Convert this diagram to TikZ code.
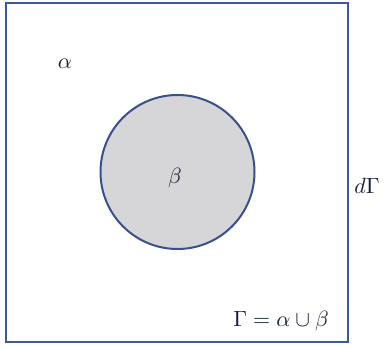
\documentclass[tikz,border=0pt]{standalone}
\usepackage{amsmath}
\definecolor{edgeblue}{HTML}{3D5A98}
\definecolor{circblue}{HTML}{3B4F8C}
\definecolor{fillgray}{HTML}{D6D6D8}
\definecolor{txt}{HTML}{141E36}
\tikzset{lbl/.style={text=txt,scale=2.2,inner sep=0pt}}
\begin{document}
\begin{tikzpicture}[x=1pt,y=-1pt]
\useasboundingbox (0,0) rectangle (388,347);
\fill[white] (0,0) rectangle (388,347);
\node[draw=edgeblue,line width=2pt,minimum width=342pt,minimum height=339pt,inner sep=0pt,anchor=north west] (box) at (5,2) {};
\node[circle,draw=circblue,fill=fillgray,line width=2pt,minimum size=154pt,inner sep=0pt] (circ) at (177.5,172) {};
\node[lbl] (alpha) at (65,64) {$\alpha$};
\node[lbl] (beta) at (175,178) {$\beta$};
\node[lbl,anchor=west] (dg) at (354,186) {$d\Gamma$};
\node[lbl] (eq) at (281,321) {$\Gamma = \alpha \cup \beta$};
\end{tikzpicture}
\end{document}
